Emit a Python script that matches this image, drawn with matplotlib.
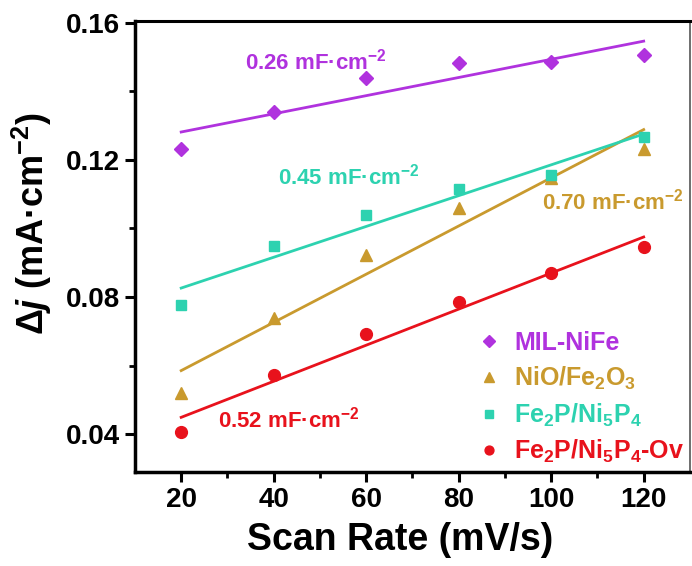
import numpy as np
import matplotlib.pyplot as plt

plt.rcParams["font.family"] = ["Liberation Sans", "DejaVu Sans"]
plt.rcParams["font.weight"] = "bold"
plt.rcParams["mathtext.fontset"] = "custom"
plt.rcParams["mathtext.rm"] = "Liberation Sans:bold"
plt.rcParams["mathtext.it"] = "Liberation Sans:italic:bold"
plt.rcParams["mathtext.bf"] = "Liberation Sans:bold"

scan_rate = [20, 40, 60, 80, 100, 120]

mil_nife = [0.1232, 0.1339, 0.1438, 0.1481, 0.1486, 0.1506]
nio_fe2o3 = [0.0520, 0.0740, 0.0924, 0.1059, 0.1146, 0.1233]
fe2p_ni5p4 = [0.0777, 0.0950, 0.1040, 0.1115, 0.1156, 0.1267]
fe2p_ni5p4_ov = [0.0407, 0.0573, 0.0692, 0.0786, 0.0870, 0.0946]

labels = ["MIL-NiFe", "NiO/Fe$_2$O$_3$", "Fe$_2$P/Ni$_5$P$_4$", "Fe$_2$P/Ni$_5$P$_4$-Ov"]
cdl_text = ["0.26 mF·cm$^{-2}$", "0.70 mF·cm$^{-2}$", "0.45 mF·cm$^{-2}$", "0.52 mF·cm$^{-2}$"]

colors = ["#B032DE", "#C99A2E", "#2DD2B0", "#E8121C"]
markers = ["D", "^", "s", "o"]
sizes = [7.5, 9, 7, 8.5]
# baseline-left anchor of each slope annotation (data coords)
text_pos = [(33.8, 0.1463), (98.0, 0.1054), (40.9, 0.1128), (27.9, 0.0421)]

fig = plt.figure(figsize=(6.92, 5.66), dpi=100)
ax = fig.add_axes([0.195, 0.166, 0.802, 0.797])

x = np.array(scan_rate)
handles = []
for y, lab, c, m, ms, txt, pos in zip(
    [mil_nife, nio_fe2o3, fe2p_ni5p4, fe2p_ni5p4_ov],
    labels, colors, markers, sizes, cdl_text, text_pos,
):
    k, b = np.polyfit(x, y, 1)
    ax.plot(x, k * x + b, color=c, lw=2, zorder=2)
    h, = ax.plot(x, y, ls="none", marker=m, ms=ms, color=c,
                 mec=c, zorder=3, label=lab)
    handles.append(h)
    ax.text(pos[0], pos[1], txt, color=c, fontsize=16, fontweight="bold",
            va="baseline", ha="left")

ax.set_xlim(10, 130)
ax.set_ylim(0.029, 0.1605)
ax.set_xticks(scan_rate)
ax.set_xticks([30, 50, 70, 90, 110], minor=True)
ax.set_yticks([0.04, 0.08, 0.12, 0.16])
ax.set_yticks([0.06, 0.10, 0.14], minor=True)
ax.set_yticklabels(["0.04", "0.08", "0.12", "0.16"])

ax.tick_params(which="major", direction="out", length=7, width=2.2,
               labelsize=20, pad=4)
ax.tick_params(which="minor", direction="out", length=4, width=2)
for lbl in ax.get_xticklabels() + ax.get_yticklabels():
    lbl.set_fontweight("bold")

ax.spines["left"].set_linewidth(2.5)
ax.spines["bottom"].set_linewidth(2.5)
ax.spines["top"].set_linewidth(2.2)
ax.spines["right"].set_linewidth(1.2)
ax.spines["right"].set_color("#555555")

ax.set_xlabel("Scan Rate (mV/s)", fontsize=27, fontweight="bold")
ax.xaxis.set_label_coords(0.478, -0.11)
ax.set_ylabel(r"$\Delta\mathit{j}$ (mA·cm$^{-2}$)", fontsize=26,
              fontweight="bold")
ax.yaxis.set_label_coords(-0.145, 0.55)

leg = ax.legend(handles=handles, loc="lower right", frameon=False,
                fontsize=18, markerscale=0.75, handlelength=0.8,
                handletextpad=0.6, labelspacing=0.38,
                bbox_to_anchor=(1.03, -0.035))
for t, c in zip(leg.get_texts(), colors):
    t.set_color(c)
    t.set_fontweight("bold")

fig.savefig("out.png", dpi=100)
